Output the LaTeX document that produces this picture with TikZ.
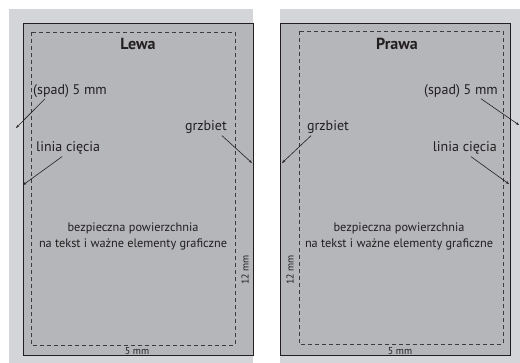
\documentclass[tikz,border=0pt]{standalone}
\usepackage{fontspec}
\setmainfont{PT Sans}
\usetikzlibrary{arrows.meta}
\definecolor{bgc}{RGB}{211,213,216}
\definecolor{pagec}{RGB}{180,182,186}
\definecolor{ink}{RGB}{35,31,32}
\definecolor{dashc}{RGB}{60,60,62}
\begin{document}
\begin{tikzpicture}[x=1pt,y=-1pt,
  backpanel/.style={fill=bgc,draw=none},
  pagebox/.style={fill=pagec,draw=ink,line width=0.9pt},
  safebox/.style={draw=dashc,line width=0.9pt,dash pattern=on 4pt off 3pt},
  lbl/.style={inner sep=0pt,text=ink,font=\fontsize{14}{16}\selectfont},
  ttl/.style={inner sep=0pt,text=ink,font=\fontsize{16}{18}\selectfont\bfseries},
  ctr/.style={inner sep=0pt,text=ink,align=center,font=\fontsize{12.3}{16}\selectfont},
  sml/.style={inner sep=0pt,text=ink,font=\fontsize{10}{11}\selectfont},
  arr/.style={draw=ink,line width=0.6pt,-{Stealth[length=3.5pt,width=2.6pt]}}]
\useasboundingbox (0,0) rectangle (520,363);
\fill[white] (0,0) rectangle (520,363);
% left page
\fill[backpanel] (9,9) rectangle (253,363);
\draw[pagebox] (23,23) rectangle (253,355);
\draw[safebox] (31,32) rectangle (235,345);
% right page
\fill[backpanel] (280,9) rectangle (520,363);
\draw[pagebox] (280,23) rectangle (510,355);
\draw[safebox] (299,31) rectangle (503,344);
% titles
\node[ttl] (lewa) at (138,44) {Lewa};
\node[ttl] (prawa) at (397,44) {Prawa};
% left labels
\node[lbl,anchor=west] (spadL) at (33,91) {(spad) 5 mm};
\node[lbl,anchor=west] (liniaL) at (36,148) {linia cięcia};
\node[lbl,anchor=east] (grzL) at (227,127) {grzbiet};
\coordinate (spadLtip) at (16,128);
\coordinate (liniaLtip) at (23,185);
\coordinate (grzLtip) at (252,163);
\draw[arr] ([xshift=-25pt,yshift=-1pt]spadL.south) -- (spadLtip);
\draw[arr] ([xshift=-6pt,yshift=-2pt]liniaL.south) -- (liniaLtip);
\draw[arr] ([xshift=16pt,yshift=-2pt]grzL.south) -- (grzLtip);
% right labels
\node[lbl,anchor=east] (spadR) at (498,91) {(spad) 5 mm};
\node[lbl,anchor=east] (liniaR) at (497,148) {linia cięcia};
\node[lbl,anchor=west] (grzR) at (307,127) {grzbiet};
\coordinate (spadRtip) at (519,125);
\coordinate (liniaRtip) at (509,184);
\coordinate (grzRtip) at (282,163);
\draw[arr] ([xshift=20pt,yshift=-1pt]spadR.south) -- (spadRtip);
\draw[arr] ([xshift=6pt,yshift=-2pt]liniaR.south) -- (liniaRtip);
\draw[arr] ([xshift=-17pt,yshift=-2pt]grzR.south) -- (grzRtip);
% center texts
\node[ctr] (safeL) at (133,236) {bezpieczna powierzchnia\\na tekst i ważne elementy graficzne};
\node[ctr] (safeR) at (399,236) {bezpieczna powierzchnia\\na tekst i ważne elementy graficzne};
% measures
\node[sml] (mmL) at (137,351) {5 mm};
\node[sml] (mmR) at (400,351) {5 mm};
\node[sml,rotate=90] (twL) at (245,270) {12 mm};
\node[sml,rotate=90] (twR) at (290,270) {12 mm};
\end{tikzpicture}
\end{document}
